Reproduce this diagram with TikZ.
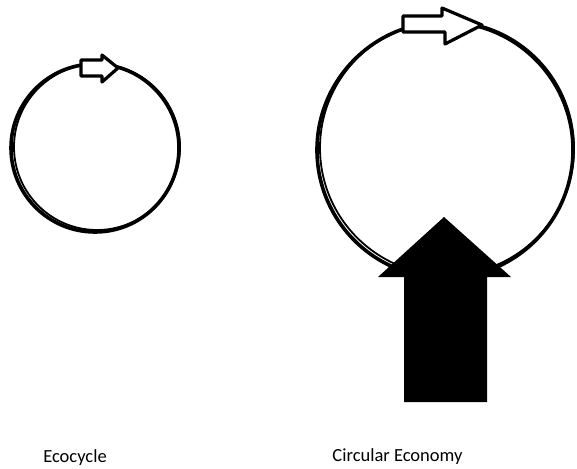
\documentclass[tikz,border=0pt]{standalone}
\usepackage{fontspec}
\setmainfont{Carlito}
\usetikzlibrary{arrows.meta}
\definecolor{ecoInk}{HTML}{000000}
\definecolor{ecoPaper}{HTML}{FFFFFF}
\begin{document}
\begin{tikzpicture}[x=1pt,y=-1pt,>=Latex,line cap=round,line join=round]
\path[fill=ecoPaper] (0,0) rectangle (577,467);
\tikzset{ring/.style={draw=ecoInk,line width=3.6pt},ringtwo/.style={draw=ecoInk,line width=1.8pt},blockarrow/.style={draw=ecoInk,fill=ecoPaper,line width=3.2pt},bigarrow/.style={fill=ecoInk},caption/.style={anchor=base,text=ecoInk,font=\fontsize{18.5}{22}\selectfont}}
% small cycle
\draw[ring] (95,148) circle[radius=84];
\draw[ringtwo] (97,147) circle[radius=83];
\draw[blockarrow] (81,60) -- (102,60) -- (102,55) -- (118,68) -- (102,82) -- (102,76) -- (81,76) -- cycle;
% large cycle
\draw[ring] (445,150) circle[radius=128];
\draw[ringtwo] (447,148) circle[radius=127];
\draw[blockarrow] (403,16) -- (442,16) -- (442,8) -- (482,25) -- (445,44) -- (445,32) -- (403,32) -- cycle;
\fill[bigarrow] (404,402) -- (404,277) -- (378,277) -- (444,217) -- (511,277) -- (487,277) -- (487,402) -- cycle;
\node[caption] (eco) at (75,462) {Ecocycle};
\node[caption] (circ) at (397.5,461) {Circular Economy};
\end{tikzpicture}
\end{document}
